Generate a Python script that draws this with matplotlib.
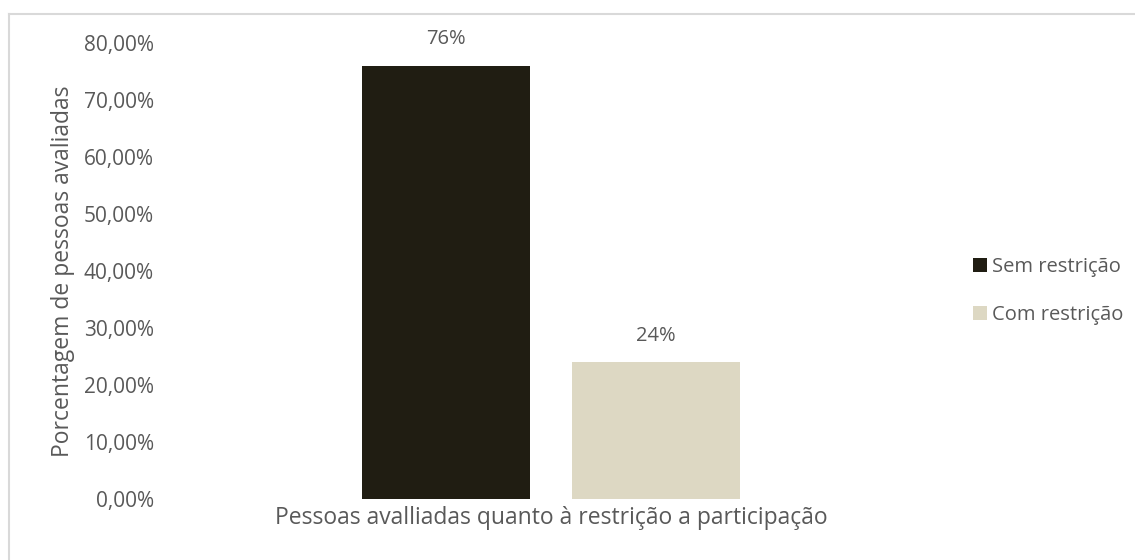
import matplotlib
matplotlib.use("Agg")
import matplotlib.pyplot as plt
from matplotlib.ticker import FuncFormatter
from matplotlib.patches import Patch
from matplotlib.lines import Line2D

categorias = ["Sem restrição", "Com restrição"]
percentuais = [0.76, 0.24]
rotulos = ["76%", "24%"]
cores = ["#201d12", "#ddd8c3"]
posicoes = [-0.5, 0.5]

plt.rcParams["font.family"] = ["Open Sans", "DejaVu Sans"]
texto = "#595959"

fig = plt.figure(figsize=(11.35, 5.6), dpi=100)
ax = fig.add_axes([165 / 1135, (560 - 499) / 560, 772 / 1135, 456 / 560])

barras = ax.bar(posicoes, percentuais, width=0.8, color=cores)
for b, r in zip(barras, rotulos):
    ax.annotate(r, (b.get_x() + b.get_width() / 2, b.get_height()),
                xytext=(0, 19), textcoords="offset points",
                ha="center", va="center", fontsize=14.5, color=texto)

ax.set_xlim(-1.84, 1.84)
ax.set_ylim(0, 0.8)
ax.set_yticks([i / 10 for i in range(9)])
ax.yaxis.set_major_formatter(FuncFormatter(lambda v, _: f"{v * 100:.2f}%".replace(".", ",")))
ax.set_xticks([])
ax.tick_params(axis="y", length=0, pad=8, labelsize=15, labelcolor=texto)
for s in ax.spines.values():
    s.set_visible(False)

ax.set_xlabel("Pessoas avalliadas quanto à restrição a participação",
              fontsize=16.5, color=texto, labelpad=5)
ax.set_ylabel("Porcentagem de pessoas avaliadas", fontsize=16.5, color=texto, labelpad=6)

handles = [Patch(facecolor=c, edgecolor="none") for c in cores]
fig.legend(handles, categorias, loc="center left", bbox_to_anchor=(955 / 1135, 1 - 291 / 560),
           frameon=False, fontsize=14.5, labelcolor=texto, handlelength=0.7, handleheight=0.7,
           handletextpad=0.25, labelspacing=1.4)

# moldura parcial (topo e esquerda)
fig.add_artist(Line2D([8.5 / 1135, 8.5 / 1135], [0, 1 - 13.5 / 560],
                      transform=fig.transFigure, color="#d9d9d9", lw=1.5))
fig.add_artist(Line2D([8.5 / 1135, 1], [1 - 13.5 / 560, 1 - 13.5 / 560],
                      transform=fig.transFigure, color="#d9d9d9", lw=1.5))

fig.savefig("out.png", dpi=100)
